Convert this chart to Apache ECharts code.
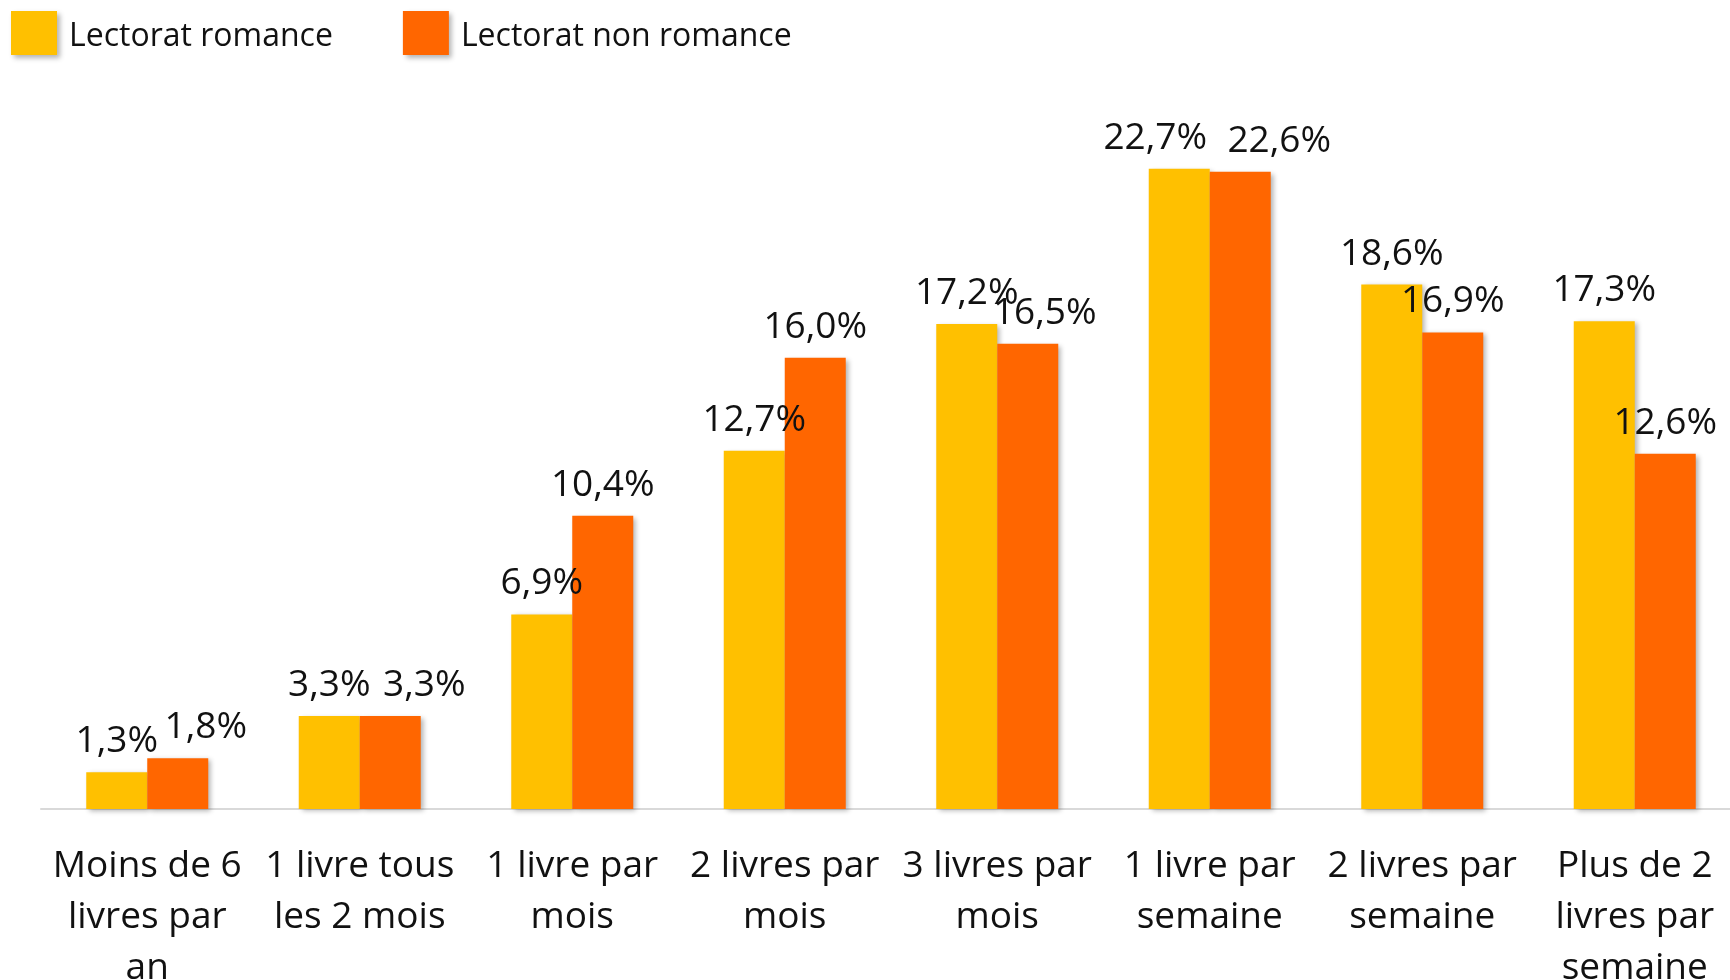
<html>
<head>
    <meta charset="utf-8">
    <title>Lectorat romance</title>
    <style>
        * { margin: 0; padding: 0; }
        #chart-container { width: 1730px; height: 980px; background: #fff; }
    </style>
</head>
<body>
<div id="chart-container"></div>
<script src="https://cdn.jsdelivr.net/npm/echarts@6.0.0/dist/echarts.min.js"></script>
<script>
    // frequence de lecture
    var categories = ['Moins de 6 livres par an', '1 livre tous les 2 mois', '1 livre par mois', '2 livres par mois',
        '3 livres par mois', '1 livre par semaine', '2 livres par semaine', 'Plus de 2 livres par semaine'];
    var romance = [1.3, 3.3, 6.9, 12.7, 17.2, 22.7, 18.6, 17.3];
    var nonRomance = [1.8, 3.3, 10.4, 16.0, 16.5, 22.6, 16.9, 12.6];
    var seriesNames = ['Lectorat romance', 'Lectorat non romance'];

    // labels pushed sideways where they would collide (series index -> category index -> px)
    var labelShiftX = [
        { 5: -24 },
        { 0: 28, 1: 34, 4: 17, 5: 39 }
    ];

    var font = '"Open Sans", "Noto Sans", sans-serif';
    var labelSize = 37;

    var myChart = echarts.init(document.getElementById('chart-container'), null, { renderer: 'canvas' });

    var ctx = document.createElement('canvas').getContext('2d');
    ctx.font = labelSize + 'px ' + font;

    // greedy word wrap, no trailing spaces
    function wrap(text, maxW) {
        var words = text.split(' ');
        var lines = [];
        var cur = '';
        words.forEach(function (w) {
            var t = cur ? cur + ' ' + w : w;
            if (cur && ctx.measureText(t).width > maxW) {
                lines.push(cur);
                cur = w;
            } else {
                cur = t;
            }
        });
        if (cur) lines.push(cur);
        return lines.join('\n');
    }

    function fmt(p) {
        return p.value.toFixed(1).replace('.', ',') + '%';
    }

    function barSeries(idx, data, color) {
        var shifts = labelShiftX[idx];
        return {
            name: seriesNames[idx],
            type: 'bar',
            data: data.map(function (v, i) {
                return shifts[i] ? { value: v, label: { offset: [shifts[i], 0] } } : v;
            }),
            barWidth: 61,
            barGap: '0%',
            itemStyle: {
                color: color,
                shadowColor: 'rgba(0,0,0,0.3)',
                shadowBlur: 5,
                shadowOffsetX: 3,
                shadowOffsetY: 2
            },
            label: {
                show: true,
                position: 'top',
                distance: 12,
                formatter: fmt,
                fontFamily: font,
                fontSize: labelSize,
                color: '#111'
            }
        };
    }

    var option = {
        animation: false,
        legend: {
            left: 11,
            top: 11,
            padding: 0,
            icon: 'rect',
            itemWidth: 46,
            itemHeight: 44,
            itemGap: 70,
            itemStyle: {
                shadowColor: 'rgba(0,0,0,0.3)',
                shadowBlur: 5,
                shadowOffsetX: 3,
                shadowOffsetY: 3
            },
            formatter: '{t|{name}}',
            textStyle: {
                rich: {
                    t: {
                        fontFamily: font,
                        fontSize: 32,
                        color: '#111',
                        padding: [8, 0, 0, 7]
                    }
                }
            },
            data: seriesNames
        },
        grid: {
            left: 41,
            right: -11,
            top: 104,
            bottom: 171,
            outerBoundsMode: 'none'
        },
        xAxis: {
            type: 'category',
            data: categories,
            axisLine: { lineStyle: { color: '#d9d9d9', width: 2 } },
            axisTick: { show: false },
            axisLabel: {
                interval: 0,
                margin: 32,
                fontFamily: font,
                fontSize: labelSize,
                lineHeight: 51,
                color: '#111',
                formatter: function (v) { return wrap(v, 196); }
            }
        },
        yAxis: {
            type: 'value',
            min: 0,
            max: 25,
            show: false,
            splitLine: { show: false }
        },
        series: [
            barSeries(0, romance, '#FFC000'),
            barSeries(1, nonRomance, '#FF6600')
        ]
    };

    myChart.setOption(option);
    window.addEventListener('resize', myChart.resize);
</script>
</body>
</html>
